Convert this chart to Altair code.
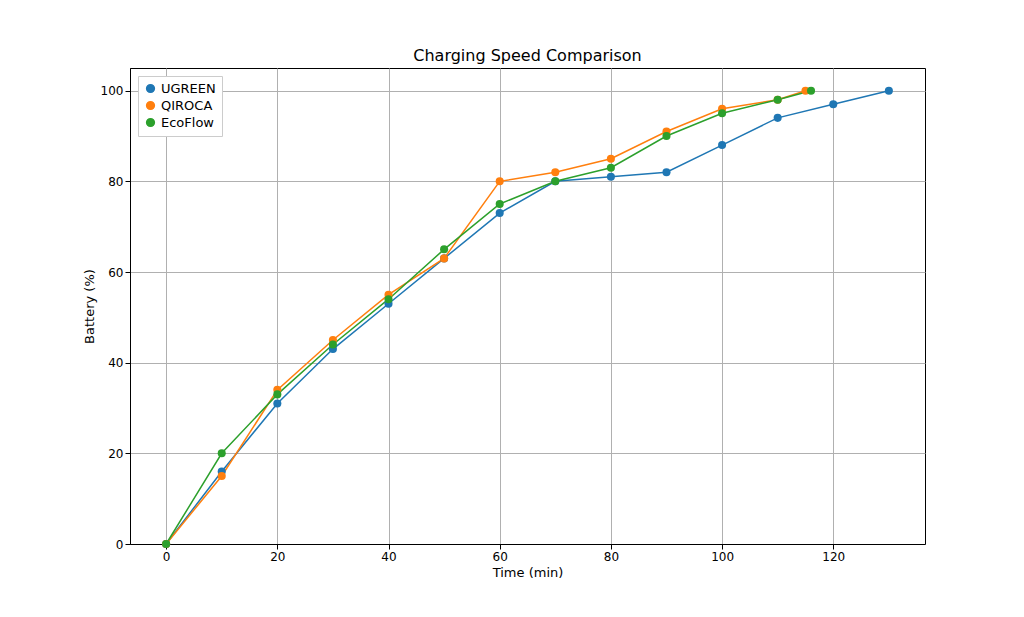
import altair as alt
import pandas as pd

ugreen_t = [0, 10, 20, 30, 40, 50, 60, 70, 80, 90, 100, 110, 120, 130]
ugreen_b = [0, 16, 31, 43, 53, 63, 73, 80, 81, 82, 88, 94, 97, 100]
qiroca_t = [0, 10, 20, 30, 40, 50, 60, 70, 80, 90, 100, 110, 115]
qiroca_b = [0, 15, 34, 45, 55, 63, 80, 82, 85, 91, 96, 98, 100]
eco_t = [0, 10, 20, 30, 40, 50, 60, 70, 80, 90, 100, 110, 116]
eco_b = [0, 20, 33, 44, 54, 65, 75, 80, 83, 90, 95, 98, 100]

names = ["UGREEN", "QIROCA", "EcoFlow"]
colors = ["#1f77b4", "#ff7f0e", "#2ca02c"]

rows = []
for name, ts, bs in zip(names, [ugreen_t, qiroca_t, eco_t], [ugreen_b, qiroca_b, eco_b]):
    for i, (t, b) in enumerate(zip(ts, bs)):
        rows.append({"series": name, "time": t, "battery": b, "order": i})
df = pd.DataFrame(rows)

chart = alt.Chart(df).mark_line(
    point=alt.OverlayMarkDef(size=65, filled=True, opacity=1), strokeWidth=1.5
).encode(
    x=alt.X("time:Q", title="Time (min)",
            scale=alt.Scale(domain=[-6.5, 136.5], nice=False, zero=False),
            axis=alt.Axis(values=[0, 20, 40, 60, 80, 100, 120])),
    y=alt.Y("battery:Q", title="Battery (%)",
            scale=alt.Scale(domain=[0, 105], nice=False),
            axis=alt.Axis(values=[0, 20, 40, 60, 80, 100])),
    color=alt.Color("series:N", scale=alt.Scale(domain=names, range=colors),
                    legend=alt.Legend(title=None, orient="top-left", offset=8,
                                      symbolType="circle", symbolSize=60,
                                      strokeColor="#ccc", padding=6,
                                      fillColor="white")),
    order="order:Q",
).properties(
    width=795, height=476,
    title=alt.TitleParams("Charging Speed Comparison", fontSize=16, fontWeight="normal",
                          font="DejaVu Sans"),
    padding={"left": 75, "top": 40, "right": 60, "bottom": 10},
).configure_axis(
    grid=True, gridColor="#b0b0b0", domainColor="black", tickColor="black",
    labelFont="DejaVu Sans", titleFont="DejaVu Sans", labelFontSize=12,
    titleFontSize=13, titleFontWeight="normal", labelColor="black", titleColor="black",
).configure_view(stroke="black", strokeWidth=1
).configure_legend(labelFont="DejaVu Sans", labelFontSize=13)

chart.save("out.html", embed_options={"renderer": "svg", "actions": False})
